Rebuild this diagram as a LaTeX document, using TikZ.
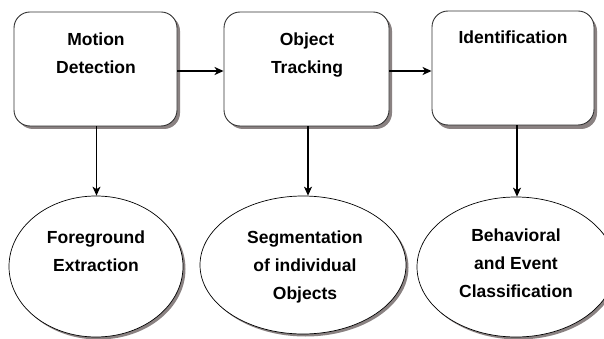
\documentclass[tikz,border=0pt]{standalone}
\usepackage{fontspec}
\setmainfont{Liberation Sans}
\usetikzlibrary{arrows.meta,shapes.geometric}
\definecolor{shadowgray}{HTML}{8A8282}
\begin{document}
\begin{tikzpicture}[x=1pt,y=-1pt,
  box/.style={draw=black!80,line width=0.9pt,fill=white,rounded corners=16pt,
    minimum width=#1,minimum height=114pt,inner sep=0pt},
  boxshadow/.style={fill=shadowgray,rounded corners=16pt,
    minimum width=#1,minimum height=114pt,inner sep=0pt},
  oval/.style={ellipse,draw=black,line width=0.7pt,fill=white,inner sep=0pt},
  ovalshadow/.style={ellipse,fill=shadowgray,inner sep=0pt},
  lbl/.style={font=\fontsize{17.5}{28}\selectfont\bfseries,align=center,inner sep=0pt,anchor=north},
  conn/.style={line width=1.3pt,-{Stealth[length=9pt,width=8pt,inset=2.5pt]}}]
\useasboundingbox (0,0) rectangle (604,339);
% shadows
\node[boxshadow=163pt] (s1) at (98.5,72) {};
\node[boxshadow=165pt] (s2) at (309.5,72) {};
\node[boxshadow=162pt] (s3) at (516,72) {};
\node[ovalshadow,minimum width=174pt,minimum height=141pt] (t1) at (98.5,269) {};
\node[ovalshadow,minimum width=206pt,minimum height=138pt] (t2) at (305.5,267.5) {};
\node[ovalshadow,minimum width=198pt,minimum height=140pt] (t3) at (518.5,269.5) {};
% boxes
\node[box=163pt] (b1) at (95.5,69) {};
\node[box=165pt] (b2) at (306.5,69) {};
\node[box=162pt] (b3) at (513,68) {};
% ellipses
\node[oval,minimum width=174pt,minimum height=141pt] (e1) at (96,266.5) {};
\node[oval,minimum width=206pt,minimum height=138pt] (e2) at (303,265) {};
\node[oval,minimum width=198pt,minimum height=140pt] (e3) at (516,267) {};
% labels
\node[lbl] (l1) at (96,32.5) {Motion\\Detection};
\node[lbl] (l2) at (307,32.5) {Object\\Tracking};
\node[lbl] (l3) at (513,30.5) {Identification};
\node[lbl] (l4) at (96,230.5) {Foreground\\Extraction};
\node[lbl] (l5) at (305,230.5) {Segmentation\\of individual\\Objects};
\node[lbl] (l6) at (516,228.5) {Behavioral\\and Event\\Classification};
% connectors
\draw[conn] ([yshift=-2pt]b1.east) -- ([yshift=-2pt]b2.west);
\draw[conn] ([yshift=-2pt]b2.east) -- ([yshift=-3pt]b3.west);
\draw[conn] ([xshift=1pt]b1.south) -- ([xshift=1pt]b1.south |- e1.north);
\draw[conn] ([xshift=1.5pt]b2.south) -- ([xshift=1.5pt]b2.south |- e2.north);
\draw[conn] ([xshift=4pt]b3.south) -- ([xshift=4pt]b3.south |- e3.north);
\end{tikzpicture}
\end{document}
